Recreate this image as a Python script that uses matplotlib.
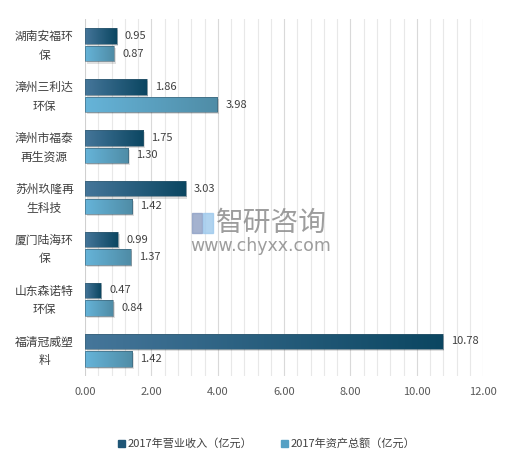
import numpy as np
import matplotlib.pyplot as plt
from matplotlib.colors import LinearSegmentedColormap
from matplotlib.patches import Rectangle
from matplotlib.transforms import ScaledTranslation

plt.rcParams['font.family'] = ['Noto Sans CJK SC', 'DejaVu Sans']

# data
companies = ['湖南安福环\n保', '漳州三利达\n环保', '漳州市福泰\n再生资源', '苏州玖隆再\n生科技',
             '厦门陆海环\n保', '山东森诺特\n环保', '福清冠威塑\n料']
revenue = [0.95, 1.86, 1.75, 3.03, 0.99, 0.47, 10.78]
assets = [0.87, 3.98, 1.30, 1.42, 1.37, 0.84, 1.42]
series_names = ['2017年营业收入（亿元）', '2017年资产总额（亿元）']
xticks = [0, 2, 4, 6, 8, 10, 12]

dark_cmap = LinearSegmentedColormap.from_list('dk', ['#45769a', '#0b4661'])
light_cmap = LinearSegmentedColormap.from_list('lt', ['#66b4d9', '#4f8ca6'])

fig = plt.figure(figsize=(5.19, 4.68), dpi=100)
ax = fig.add_axes([0.164, 0.197, 0.767, 0.762])

ax.set_xlim(0, 12)
ax.set_ylim(6.5, -0.5)

# grid lines (minor every 0.4)
for gx in np.arange(0.4, 12.01, 0.4):
    major = abs(gx / 2 - round(gx / 2)) < 1e-6
    ax.axvline(gx, color='#d9d9d9' if major else '#e8e8e8', lw=0.8, zorder=0)
ax.axvline(0, color='#d0d0d0', lw=0.8, zorder=0)

grad = np.linspace(0, 1, 256).reshape(1, -1)
bh = 0.31
off = 0.175


def grad_bar(y, w, cmap):
    # shadow
    sh = Rectangle((0.05, y - bh / 2 + 0.04), w, bh, color='#000000', alpha=0.12,
                   lw=0, zorder=1)
    ax.add_patch(sh)
    r = Rectangle((0, y - bh / 2), w, bh, facecolor='none', edgecolor='#3a5d70',
                  lw=0.4, zorder=3)
    ax.add_patch(r)
    im = ax.imshow(grad, cmap=cmap, aspect='auto', extent=(0, w, y + bh / 2, y - bh / 2),
                   zorder=2)
    im.set_clip_path(r)


for i in range(len(companies)):
    grad_bar(i - off, revenue[i], dark_cmap)
    grad_bar(i + off, assets[i], light_cmap)
    ax.text(revenue[i] + 0.25, i - off, f'{revenue[i]:.2f}', va='center', ha='left',
            fontsize=8, color='#404040')
    ax.text(assets[i] + 0.25, i + off, f'{assets[i]:.2f}', va='center', ha='left',
            fontsize=8, color='#404040')

ax.set_xlim(0, 12)
ax.set_ylim(6.5, -0.5)
ax.set_xticks(xticks)
ax.set_xticklabels([f'{v:.2f}' for v in xticks], fontsize=8, color='#595959')
ax.set_yticks(range(len(companies)))
ax.set_yticklabels(companies, fontsize=8.5, color='#404040', ha='center',
                   linespacing=1.55)
ax.tick_params(axis='y', length=0, pad=29.5)
ax.tick_params(axis='x', length=0, pad=8)
# nudge category labels up a little
lift = ScaledTranslation(0, 3 / 100, fig.dpi_scale_trans)
for lab in ax.get_yticklabels():
    lab.set_transform(lab.get_transform() + lift)
for s in ax.spines.values():
    s.set_visible(False)

# legend
fig.patches.append(Rectangle((118 / 519, 1 - 447 / 468), 7 / 519, 7 / 468,
                             transform=fig.transFigure, color='#1f5676'))
fig.text(128 / 519, 1 - 443 / 468, series_names[0], fontsize=8, color='#404040', va='center')
fig.patches.append(Rectangle((281 / 519, 1 - 447 / 468), 7 / 519, 7 / 468,
                             transform=fig.transFigure, color='#55a0c4'))
fig.text(291 / 519, 1 - 443 / 468, series_names[1], fontsize=8, color='#404040', va='center')

# watermark
fig.patches.append(Rectangle((192 / 519, 1 - 233 / 468), 10 / 519, 20 / 468,
                             transform=fig.transFigure, color='#8d9fc4', alpha=0.8))
fig.patches.append(Rectangle((203 / 519, 1 - 233 / 468), 10 / 519, 20 / 468,
                             transform=fig.transFigure, color='#9cc8ec', alpha=0.8))
fig.text(216 / 519, 1 - 223 / 468, '智研咨询', fontsize=20, color='#8c8c8c', va='center',
         alpha=0.85)
fig.text(190 / 519, 1 - 246 / 468, 'www.chyxx.com', fontsize=12.5,
         color='#8c8c8c', va='center', family='DejaVu Sans', alpha=0.85)

fig.savefig('out.png', dpi=100)
